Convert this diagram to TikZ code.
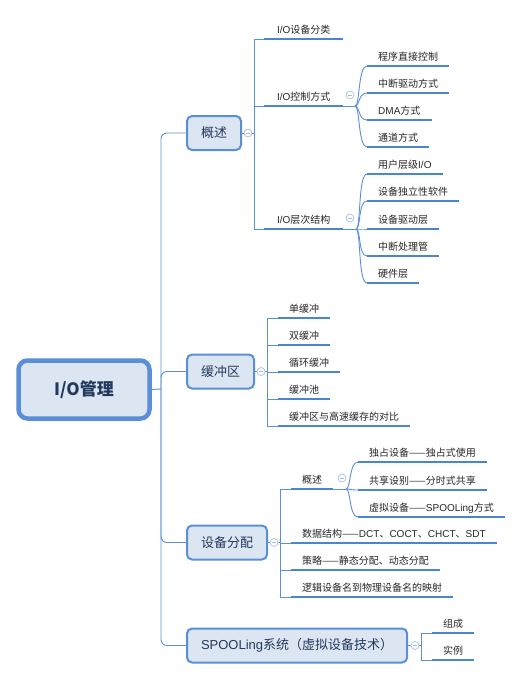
\documentclass[tikz,border=0pt]{standalone}
\usepackage{fontspec}
\setmainfont{Noto Sans CJK SC}
\newfontfamily\lat{Liberation Sans}

\definecolor{boxfill}{HTML}{DCE6F2}
\definecolor{boxline}{HTML}{5A8ED6}
\definecolor{linkblue}{HTML}{5B8FD8}
\definecolor{barblue}{HTML}{4A86CF}
\definecolor{boxtext}{HTML}{22395C}
\definecolor{foldblue}{HTML}{A8BEEA}

\tikzset{
  box/.style={draw=boxline, fill=boxfill, line width=2pt, rounded corners=5pt,
    minimum height=34pt, inner xsep=14pt, anchor=west,
    font=\fontsize{13}{15}\selectfont, text=boxtext},
  rootbox/.style={draw=boxline, fill=boxfill, line width=4.5pt, rounded corners=9pt,
    minimum width=131pt, minimum height=58pt,
    font=\fontsize{17}{20}\selectfont\bfseries, text=boxtext},
  leaf/.style={anchor=south west, inner xsep=11pt, inner ysep=3pt,
    text height=8pt, text depth=2pt, font=\fontsize{10}{12}\selectfont, text=black!85},
  conn/.style={draw=linkblue, line width=0.9pt},
  uline/.style={draw=barblue, line width=2.6pt},
  foldmark/.style={circle, draw=foldblue, fill=white, line width=0.7pt,
    minimum size=8pt, inner sep=0pt,
    path picture={\draw[foldblue, line width=0.7pt]
      ([xshift=-2pt]path picture bounding box.center) --
      ([xshift=2pt]path picture bounding box.center);}},
}

\begin{document}
\begin{tikzpicture}[x=1pt,y=-1pt]
\useasboundingbox (0,0) rectangle (528,680);

% root and the four main topics
\node[rootbox] (root) at (84,389.5) {I/O管理};
\node[box] (gs) at (186,133) {概述};
\node[box] (hc) at (186,371.5) {缓冲区};
\node[box] (sb) at (186,542.5) {设备分配};
\node[box] (sp) at (186,645.5) {{\lat SPOOLing}系统（虚拟设备技术）};
\coordinate (hub) at (161,389);

\draw[conn] (root.east) -- (hub);
\draw[conn, rounded corners=6pt] (gs.west) -| (hub) |- (sp.west);
\draw[conn, rounded corners=6pt] (hc.west) -| (hub);
\draw[conn, rounded corners=6pt] (sb.west) -| (hub);

% 概述
\coordinate (gsj) at (254,133);
\node[leaf, minimum width=79pt] (sf) at (264,39) {{\lat I/O}设备分类};
\node[leaf, minimum width=79pt] (kz) at (264,106) {{\lat I/O}控制方式};
\node[leaf, minimum width=79pt] (cc) at (264,229) {{\lat I/O}层次结构};
\draw[conn] (gs.east) -- (gsj);
\foreach \n in {sf,kz,cc} \draw[conn] (gsj) |- (\n.south west);

\coordinate (kzj) at (355,106);
\node[leaf] (kz1) at (367,66) {程序直接控制};
\node[leaf] (kz2) at (367,93) {中断驱动方式};
\node[leaf] (kz3) at (367,120) {{\lat DMA}方式};
\node[leaf] (kz4) at (367,147) {通道方式};
\draw[conn] (kz.south east) -- (kzj);
\foreach \n in {kz1,kz2,kz3,kz4}
  \draw[conn] (kzj) .. controls +(5,0) and +(-9,0) .. (\n.south west);

\coordinate (ccj) at (356,229);
\node[leaf] (cc1) at (367,174) {用户层级{\lat I/O}};
\node[leaf] (cc2) at (367,201) {设备独立性软件};
\node[leaf] (cc3) at (367,229) {设备驱动层};
\node[leaf] (cc4) at (367,256) {中断处理管};
\node[leaf] (cc5) at (367,283) {硬件层};
\draw[conn] (cc.south east) -- (ccj);
\foreach \n in {cc1,cc2,cc3,cc4,cc5}
  \draw[conn] (ccj) .. controls +(5,0) and +(-9,0) .. (\n.south west);

% 缓冲区
\coordinate (hcj) at (267,371.5);
\node[leaf] (hc1) at (278,318) {单缓冲};
\node[leaf] (hc2) at (278,345) {双缓冲};
\node[leaf] (hc3) at (278,372) {循环缓冲};
\node[leaf] (hc4) at (278,399) {缓冲池};
\node[leaf] (hc5) at (278,426) {缓冲区与高速缓存的对比};
\draw[conn] (hc.east) -- (hcj);
\foreach \n in {hc1,hc2,hc3,hc4,hc5} \draw[conn] (hcj) |- (\n.south west);

% 设备分配
\coordinate (sbj) at (280,542.5);
\node[leaf] (sb1) at (291,489) {概述};
\node[leaf] (sb2) at (291,543) {数据结构——{\lat DCT}、{\lat COCT}、{\lat CHCT}、{\lat SDT}};
\node[leaf] (sb3) at (291,570) {策略——静态分配、动态分配};
\node[leaf] (sb4) at (291,597) {逻辑设备名到物理设备名的映射};
\draw[conn] (sb.east) -- (sbj);
\foreach \n in {sb1,sb2,sb3,sb4} \draw[conn] (sbj) |- (\n.south west);

\coordinate (sb1j) at (346,489);
\node[leaf] (gs1) at (358,462) {独占设备——独占式使用};
\node[leaf] (gs2) at (358,490) {共享设别——分时式共享};
\node[leaf] (gs3) at (358,517) {虚拟设备——{\lat SPOOLing}方式};
\draw[conn] (sb1.south east) -- (sb1j);
\foreach \n in {gs1,gs2,gs3}
  \draw[conn] (sb1j) .. controls +(5,0) and +(-9,0) .. (\n.south west);

% SPOOLing
\coordinate (spj) at (421,645.5);
\node[leaf] (sp1) at (432,633) {组成};
\node[leaf] (sp2) at (432,660) {实例};
\draw[conn] (sp.east) -- (spj);
\foreach \n in {sp1,sp2} \draw[conn] (spj) |- (\n.south west);

% underlines of the leaf topics
\foreach \n in {sf,kz,cc,kz1,kz2,kz3,kz4,cc1,cc2,cc3,cc4,cc5,
  hc1,hc2,hc3,hc4,hc5,sb1,sb2,sb3,sb4,gs1,gs2,gs3,sp1,sp2}
  \draw[uline] (\n.south west) -- (\n.south east);

% fold marks
\node[foldmark] (gsf) at (248,133) {};
\node[foldmark] (hcf) at (261,371.5) {};
\node[foldmark] (sbf) at (274,542.5) {};
\node[foldmark] (spf) at (415,645.5) {};
\node[foldmark] (kzf) at (350,95) {};
\node[foldmark] (ccf) at (350,218) {};
\node[foldmark] (sb1f) at (342,478) {};
\end{tikzpicture}
\end{document}
